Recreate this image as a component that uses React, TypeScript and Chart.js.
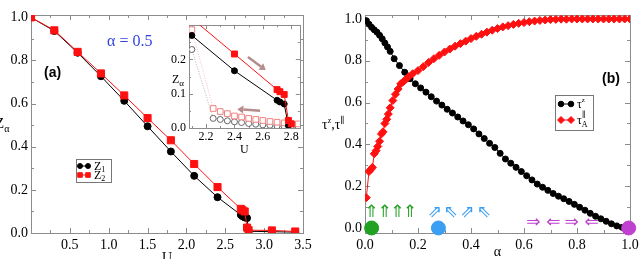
import React, { useEffect, useRef } from "react";
import { Chart, registerables } from "chart.js";

Chart.register(...registerables);

const SERIF = "'Liberation Serif', 'DejaVu Serif', serif";
const SANS = "'Liberation Sans', 'DejaVu Sans', sans-serif";
const SYMBOL = "'DejaVu Sans', sans-serif";

// ================= Panel (a): Z_alpha vs U (alpha = 0.5) =================
const uValues = [0, 0.3, 0.6, 0.9, 1.2, 1.5, 1.8, 2.1, 2.4, 2.7, 2.72, 2.75, 2.78, 2.8, 3.1, 3.4];
const z1Values = [1.0, 0.937, 0.836, 0.727, 0.613, 0.495, 0.378, 0.265, 0.166, 0.084, 0.078, 0.072, 0.069, 0.008, 0.006, 0.004];
const z2Values = [1.0, 0.94, 0.84, 0.74, 0.638, 0.533, 0.43, 0.32, 0.213, 0.112, 0.106, 0.1, 0.025, 0.013, 0.012, 0.007];
const aXTicks = [0.5, 1.0, 1.5, 2.0, 2.5, 3.0, 3.5];
const aYTicks = [0, 0.2, 0.4, 0.6, 0.8, 1.0];

// inset of panel (a)
const insetZ1U = [2.1, 2.4, 2.7, 2.72, 2.75, 2.78];
const insetZ1 = [0.27, 0.167, 0.081, 0.076, 0.07, 0.007];
const insetZ2U = [2.1, 2.4, 2.7, 2.72, 2.75, 2.78, 2.8];
const insetZ2 = [0.32, 0.216, 0.112, 0.106, 0.098, 0.022, 0.012];
const hystU = [2.1, 2.25, 2.3, 2.35, 2.4, 2.45, 2.5, 2.55, 2.6, 2.65, 2.7, 2.75, 2.8, 2.85];
const hystZ1 = [0.229, 0.028, 0.025, 0.021, 0.018, 0.016, 0.013, 0.011, 0.009, 0.008, 0.006, 0.005, 0.004, 0.003];
const hystZ2 = [0.287, 0.057, 0.048, 0.042, 0.035, 0.032, 0.028, 0.025, 0.022, 0.019, 0.017, 0.015, 0.013, 0.012];
const insetXTicks = [2.2, 2.4, 2.6, 2.8];
const insetYTicks = [0, 0.1, 0.2];
const insetArrowFrom = [[2.495, 0.207], [2.58, 0.05]];
const insetArrowTo = [[2.62, 0.169], [2.42, 0.055]];

// ================= Panel (b): tau vs alpha =================
const alphaZ = [0.005, 0.015, 0.025, 0.035, 0.045, 0.055, 0.065, 0.075, 0.085, 0.095,
  0.11, 0.13, 0.15, 0.17, 0.19, 0.21, 0.23, 0.25, 0.27, 0.29,
  0.31, 0.33, 0.35, 0.37, 0.39, 0.41, 0.43, 0.45, 0.47, 0.49,
  0.51, 0.53, 0.55, 0.57, 0.59, 0.61, 0.63, 0.65, 0.67, 0.69,
  0.71, 0.73, 0.75, 0.77, 0.79, 0.81, 0.83, 0.85, 0.87, 0.89,
  0.91, 0.93, 0.95, 0.97, 0.99];
const tauZ = [0.992, 0.975, 0.96, 0.948, 0.937, 0.922, 0.905, 0.885, 0.866, 0.845,
  0.81, 0.777, 0.745, 0.714, 0.69, 0.67, 0.65, 0.628, 0.607, 0.588,
  0.568, 0.55, 0.531, 0.512, 0.494, 0.474, 0.45, 0.428, 0.405, 0.385,
  0.357, 0.33, 0.31, 0.29, 0.27, 0.25, 0.23, 0.21, 0.195, 0.18,
  0.165, 0.152, 0.14, 0.127, 0.113, 0.099, 0.085, 0.07, 0.056, 0.044,
  0.032, 0.02, 0.01, 0.003, 0.0];
const alphaA = [0.005, 0.015, 0.022, 0.028, 0.035, 0.042, 0.048, 0.055, 0.062, 0.068,
  0.075, 0.082, 0.088, 0.095, 0.105, 0.115, 0.125, 0.135, 0.145, 0.155, 0.165,
  0.18, 0.2, 0.22, 0.24, 0.26, 0.28, 0.3, 0.32, 0.34, 0.36,
  0.38, 0.4, 0.42, 0.44, 0.46, 0.48, 0.5, 0.52, 0.54, 0.56,
  0.58, 0.6, 0.62, 0.64, 0.66, 0.68, 0.7, 0.72, 0.74, 0.76,
  0.78, 0.8, 0.82, 0.84, 0.86, 0.88, 0.9, 0.92, 0.94, 0.96, 0.98, 1.0];
const tauA = [0.145, 0.27, 0.28, 0.29, 0.355, 0.37, 0.39, 0.415, 0.45, 0.46,
  0.5, 0.52, 0.545, 0.575, 0.61, 0.64, 0.665, 0.69, 0.7, 0.712, 0.724,
  0.738, 0.753, 0.772, 0.792, 0.81, 0.826, 0.842, 0.856, 0.87, 0.882,
  0.894, 0.906, 0.917, 0.927, 0.937, 0.946, 0.954, 0.962, 0.968, 0.974,
  0.979, 0.983, 0.987, 0.99, 0.993, 0.995, 0.997, 0.998, 0.999, 0.999,
  1.0, 1.0, 1.0, 1.0, 1.0, 1.0, 1.0, 1.0, 1.0, 1.0, 1.0, 1.0];
const bTicks = [0, 0.2, 0.4, 0.6, 0.8, 1.0];
const fixedPointAlpha = [0.025, 0.277, 0.995];
const fixedPointTau = [0, 0, 0];
const fixedPointColors = ["#22a022", "#3a9ff2", "#c040d0"];
const greenArrowAlpha = [0.025, 0.075, 0.123, 0.17];
const blueArrowAlpha = [0.264, 0.323, 0.386, 0.449];
const blueArrowGlyphs = ["⇗", "⇖", "⇗", "⇖"];
const purpleArrowAlpha = [0.635, 0.711, 0.78, 0.855];
const purpleArrowGlyphs = ["⇒", "⇐", "⇒", "⇐"];

// ================= helpers =================
const pts = (xs: number[], ys: number[]) => xs.map((x, i) => ({ x, y: ys[i] }));
const range = (a: number, b: number, s: number) => {
  const out: number[] = [];
  for (let v = a; v <= b + 1e-9; v += s) out.push(Math.round(v * 1000) / 1000);
  return out;
};

function linAxis(o: any) {
  return {
    type: "linear",
    min: o.min,
    max: o.max,
    afterBuildTicks: (s: any) => {
      s.ticks = o.ticks.map((v: number) => ({ value: v }));
    },
    afterFit: o.fit,
    ticks: {
      autoSkip: false,
      maxRotation: 0,
      padding: o.pad,
      color: "#000",
      font: { family: SERIF, size: o.size },
      callback: (v: any) => Number(v).toFixed(o.digits),
    },
    grid: { display: false, drawTicks: false },
    border: { display: false },
    title: { display: false },
  };
}

function drawFrame(chart: any, f: any) {
  const { ctx, chartArea: a } = chart;
  const xs = chart.scales.x;
  const ys = chart.scales.y;
  ctx.save();
  ctx.strokeStyle = f.color;
  ctx.lineWidth = 1;
  ctx.strokeRect(Math.round(a.left) + 0.5, Math.round(a.top) + 0.5, Math.round(a.right - a.left), Math.round(a.bottom - a.top));
  ctx.beginPath();
  const xt = (vals: number[], len: number) => {
    vals.forEach((v) => {
      const p = Math.round(xs.getPixelForValue(v)) + 0.5;
      ctx.moveTo(p, a.bottom);
      ctx.lineTo(p, a.bottom - len);
      ctx.moveTo(p, a.top);
      ctx.lineTo(p, a.top + len);
    });
  };
  const yt = (vals: number[], len: number) => {
    vals.forEach((v) => {
      const p = Math.round(ys.getPixelForValue(v)) + 0.5;
      ctx.moveTo(a.left, p);
      ctx.lineTo(a.left + len, p);
      ctx.moveTo(a.right, p);
      ctx.lineTo(a.right - len, p);
    });
  };
  xt(f.xMajor, f.major);
  xt(f.xMinor, f.minor);
  yt(f.yMajor, f.major);
  yt(f.yMinor, f.minor);
  ctx.stroke();
  ctx.restore();
}

function runs(ctx: any, x: number, y: number, items: any[], color: string) {
  ctx.save();
  ctx.fillStyle = color;
  ctx.textAlign = "left";
  ctx.textBaseline = "alphabetic";
  let cx = x;
  items.forEach((r) => {
    ctx.font = `${r.bold ? "bold " : ""}${r.size}px ${r.family || SERIF}`;
    ctx.fillText(r.t, cx + (r.dx || 0), y + (r.dy || 0));
    if (!r.stay) cx += ctx.measureText(r.t).width + (r.dx || 0);
  });
  ctx.restore();
}

function axisTitle(chart: any, text: string, size: number, baseline: number) {
  const { ctx, chartArea: a } = chart;
  ctx.save();
  ctx.fillStyle = "#000";
  ctx.font = `${size}px ${SERIF}`;
  ctx.textAlign = "center";
  ctx.textBaseline = "alphabetic";
  ctx.fillText(text, (a.left + a.right) / 2, baseline);
  ctx.restore();
}

function marker(ctx: any, style: string, x: number, y: number, r: number, fill: string, stroke: string) {
  ctx.beginPath();
  if (style === "circle") ctx.arc(x, y, r, 0, Math.PI * 2);
  else if (style === "rect") ctx.rect(x - r, y - r, 2 * r, 2 * r);
  else {
    ctx.moveTo(x, y - r);
    ctx.lineTo(x + r, y);
    ctx.lineTo(x, y + r);
    ctx.lineTo(x - r, y);
    ctx.closePath();
  }
  ctx.fillStyle = fill;
  ctx.fill();
  ctx.strokeStyle = stroke;
  ctx.lineWidth = 1;
  ctx.stroke();
}

function legendRow(ctx: any, x: number, y: number, style: string, color: string, r: number, gap: number) {
  ctx.save();
  ctx.strokeStyle = color;
  ctx.lineWidth = 1;
  ctx.beginPath();
  ctx.moveTo(x, y);
  ctx.lineTo(x + gap, y);
  ctx.stroke();
  marker(ctx, style, x, y, r, color, color);
  marker(ctx, style, x + gap, y, r, color, color);
  ctx.restore();
}

const FRAME = "#8c8c8c";
const RED = "#ff1010";

// ================= configs =================
function configA(): any {
  return {
    type: "scatter",
    data: {
      datasets: [
        {
          data: pts(uValues, z2Values), showLine: true, borderColor: RED, borderWidth: 1,
          pointStyle: "rect", pointRadius: 5, pointBackgroundColor: RED, pointBorderColor: RED,
        },
        {
          data: pts(uValues, z1Values), showLine: true, borderColor: "#000", borderWidth: 1,
          pointStyle: "circle", pointRadius: 3.5, pointBackgroundColor: "#000", pointBorderColor: "#000",
        },
      ],
    },
    options: {
      responsive: false, animation: false, events: [],
      layout: { padding: { top: 15, right: 19, left: 0, bottom: 0 } },
      plugins: { legend: { display: false }, tooltip: { enabled: false } },
      scales: {
        x: linAxis({ min: 0, max: 3.5, ticks: aXTicks, digits: 1, size: 14, pad: 4, fit: (s: any) => { s.height = 26; } }),
        y: linAxis({ min: 0, max: 1.011, ticks: aYTicks, digits: 1, size: 14, pad: 3, fit: (s: any) => { s.width = 31; } }),
      },
    },
    plugins: [
      {
        id: "decorA",
        beforeDatasetsDraw(chart: any) {
          drawFrame(chart, {
            color: FRAME, major: 5, minor: 3,
            xMajor: range(0.5, 3.0, 0.5), xMinor: range(0.25, 3.25, 0.5),
            yMajor: range(0.2, 0.8, 0.2), yMinor: range(0.1, 0.9, 0.2),
          });
        },
        afterDatasetsDraw(chart: any) {
          const ctx = chart.ctx;
          axisTitle(chart, "U", 14, 262);
          runs(ctx, 107, 46, [{ t: "α = 0.5", size: 16 }], "#3344dd");
          runs(ctx, 44, 77, [{ t: "(a)", size: 14, bold: true, family: SANS }], "#000");
          runs(ctx, -5, 128, [{ t: "Z", size: 15 }, { t: "α", size: 10, dy: 4 }], "#000");
          // legend
          ctx.save();
          ctx.strokeStyle = "#777";
          ctx.lineWidth = 1;
          ctx.strokeRect(76.5, 159.5, 35, 23);
          ctx.restore();
          legendRow(ctx, 80, 166, "circle", "#000", 2.5, 8);
          legendRow(ctx, 80, 175, "rect", RED, 2.3, 8);
          runs(ctx, 94, 170, [{ t: "Z", size: 12 }, { t: "1", size: 8, dy: 2 }], "#000");
          runs(ctx, 94, 179, [{ t: "Z", size: 12 }, { t: "2", size: 8, dy: 2 }], "#000");
        },
      },
    ],
  };
}

function configInset(): any {
  return {
    type: "scatter",
    data: {
      datasets: [
        {
          data: pts(insetZ2U, insetZ2), showLine: true, borderColor: RED, borderWidth: 1,
          pointStyle: "rect", pointRadius: 4.2, pointBackgroundColor: RED, pointBorderColor: RED,
        },
        {
          data: pts(insetZ1U, insetZ1), showLine: true, borderColor: "#000", borderWidth: 1,
          pointStyle: "circle", pointRadius: 3, pointBackgroundColor: "#000", pointBorderColor: "#000",
        },
        {
          data: pts(hystU, hystZ2), showLine: true, borderColor: "#f4a0a0", borderWidth: 0.7, borderDash: [1, 1.5],
          pointStyle: "rect", pointRadius: 4, pointBackgroundColor: "#fff", pointBorderColor: "#f08080", pointBorderWidth: 1,
        },
        {
          data: pts(hystU, hystZ1), showLine: true, borderColor: "#9a9a9a", borderWidth: 0.7, borderDash: [1, 1.5],
          pointStyle: "circle", pointRadius: 3, pointBackgroundColor: "#fff", pointBorderColor: "#666", pointBorderWidth: 1,
        },
      ],
    },
    options: {
      responsive: false, animation: false, events: [],
      layout: { padding: { top: 10, right: 5, left: 0, bottom: 0 } },
      plugins: { legend: { display: false }, tooltip: { enabled: false } },
      scales: {
        x: linAxis({ min: 2.08, max: 2.86, ticks: insetXTicks, digits: 1, size: 12, pad: 2, fit: (s: any) => { s.height = 32; } }),
        y: linAxis({ min: 0, max: 0.3, ticks: insetYTicks, digits: 1, size: 12, pad: 3, fit: (s: any) => { s.width = 39; } }),
      },
    },
    plugins: [
      {
        id: "decorInset",
        beforeDraw(chart: any) {
          const { ctx, chartArea: a } = chart;
          ctx.save();
          ctx.fillStyle = "#fff";
          ctx.fillRect(a.left, a.top, a.right - a.left, a.bottom - a.top);
          ctx.restore();
        },
        beforeDatasetsDraw(chart: any) {
          drawFrame(chart, {
            color: FRAME, major: 4, minor: 2,
            xMajor: insetXTicks, xMinor: range(2.1, 2.7, 0.2),
            yMajor: [0.1, 0.2], yMinor: [0.05, 0.15, 0.25],
          });
          const { ctx } = chart;
          const xs = chart.scales.x;
          const ys = chart.scales.y;
          ctx.save();
          ctx.strokeStyle = "#b48c8c";
          ctx.fillStyle = "#b48c8c";
          ctx.lineWidth = 2.5;
          insetArrowFrom.forEach((f, i) => {
            const t = insetArrowTo[i];
            const x0 = xs.getPixelForValue(f[0]);
            const y0 = ys.getPixelForValue(f[1]);
            const x1 = xs.getPixelForValue(t[0]);
            const y1 = ys.getPixelForValue(t[1]);
            const ang = Math.atan2(y1 - y0, x1 - x0);
            const hx = x1 - 6 * Math.cos(ang);
            const hy = y1 - 6 * Math.sin(ang);
            ctx.beginPath();
            ctx.moveTo(x0, y0);
            ctx.lineTo(hx, hy);
            ctx.stroke();
            ctx.beginPath();
            ctx.moveTo(x1, y1);
            ctx.lineTo(hx + 4 * Math.sin(ang), hy - 4 * Math.cos(ang));
            ctx.lineTo(hx - 4 * Math.sin(ang), hy + 4 * Math.cos(ang));
            ctx.closePath();
            ctx.fill();
          });
          ctx.restore();
        },
        afterDraw(chart: any) {
          axisTitle(chart, "U", 12, 138);
          runs(chart.ctx, 22, 68, [{ t: "Z", size: 12 }, { t: "α", size: 9, dy: 3 }], "#000");
        },
      },
    ],
  };
}

function configB(): any {
  return {
    type: "scatter",
    data: {
      datasets: [
        {
          data: pts(fixedPointAlpha, fixedPointTau), showLine: false, clip: false,
          pointStyle: "circle", pointRadius: 7, pointBackgroundColor: fixedPointColors, pointBorderColor: fixedPointColors,
        },
        {
          data: pts(alphaA, tauA), showLine: true, borderColor: RED, borderWidth: 1,
          pointStyle: "rectRot", pointRadius: 4, pointBackgroundColor: RED, pointBorderColor: RED,
        },
        {
          data: pts(alphaZ, tauZ), showLine: true, borderColor: "#000", borderWidth: 1,
          pointStyle: "circle", pointRadius: 3, pointBackgroundColor: "#000", pointBorderColor: "#000",
        },
      ],
    },
    options: {
      responsive: false, animation: false, events: [],
      layout: { padding: { top: 15, right: 13, left: 0, bottom: 0 } },
      plugins: { legend: { display: false }, tooltip: { enabled: false } },
      scales: {
        x: linAxis({ min: 0, max: 1, ticks: bTicks, digits: 1, size: 14, pad: 4, fit: (s: any) => { s.height = 26; } }),
        y: linAxis({ min: -0.024, max: 1.019, ticks: bTicks, digits: 1, size: 14, pad: 3, fit: (s: any) => { s.width = 43; } }),
      },
    },
    plugins: [
      {
        id: "decorB",
        beforeDatasetsDraw(chart: any) {
          drawFrame(chart, {
            color: FRAME, major: 5, minor: 3,
            xMajor: [0.2, 0.4, 0.6, 0.8], xMinor: range(0.1, 0.9, 0.2),
            yMajor: bTicks, yMinor: range(0.1, 0.9, 0.2),
          });
          const { ctx } = chart;
          const xs = chart.scales.x;
          const ys = chart.scales.y;
          ctx.save();
          ctx.textAlign = "center";
          ctx.textBaseline = "middle";
          ctx.font = `17px ${SYMBOL}`;
          ctx.fillStyle = fixedPointColors[0];
          greenArrowAlpha.forEach((a) => ctx.fillText("⇑", xs.getPixelForValue(a), ys.getPixelForValue(0.072)));
          ctx.fillStyle = fixedPointColors[1];
          blueArrowAlpha.forEach((a, i) => ctx.fillText(blueArrowGlyphs[i], xs.getPixelForValue(a), ys.getPixelForValue(0.072)));
          ctx.fillStyle = fixedPointColors[2];
          purpleArrowAlpha.forEach((a, i) => ctx.fillText(purpleArrowGlyphs[i], xs.getPixelForValue(a), ys.getPixelForValue(0.025)));
          ctx.restore();
        },
        afterDatasetsDraw(chart: any) {
          const ctx = chart.ctx;
          axisTitle(chart, "α", 14, 256);
          runs(ctx, 280, 83, [{ t: "(b)", size: 14, bold: true, family: SANS }], "#000");
          runs(ctx, 0, 129, [
            { t: "τ", size: 14 }, { t: "z", size: 8, dy: -6 }, { t: ",", size: 14 },
            { t: "τ", size: 14 }, { t: "∥", size: 9, dy: -6 },
          ], "#000");
          ctx.save();
          ctx.strokeStyle = "#777";
          ctx.lineWidth = 1;
          ctx.strokeRect(233.5, 95.5, 38, 35);
          ctx.restore();
          legendRow(ctx, 239, 104, "circle", "#000", 2.8, 10);
          legendRow(ctx, 239, 120, "rectRot", RED, 3.5, 10);
          runs(ctx, 255, 108, [{ t: "τ", size: 12 }, { t: "z", size: 7, dy: -6 }], "#000");
          runs(ctx, 255, 124, [{ t: "τ", size: 12 }, { t: "∥", size: 8, dy: -7, stay: true }, { t: "A", size: 8, dy: 3 }], "#000");
        },
      },
    ],
  };
}

export default function App() {
  const aRef = useRef<HTMLCanvasElement>(null);
  const insetRef = useRef<HTMLCanvasElement>(null);
  const bRef = useRef<HTMLCanvasElement>(null);

  useEffect(() => {
    const charts: Chart[] = [];
    if (aRef.current) charts.push(new Chart(aRef.current, configA()));
    if (insetRef.current) charts.push(new Chart(insetRef.current, configInset()));
    if (bRef.current) charts.push(new Chart(bRef.current, configB()));
    return () => charts.forEach((c) => c.destroy());
  }, []);

  return (
    <div style={{ position: "absolute", left: 0, top: 0, width: 643, height: 259, background: "#fff", overflow: "hidden" }}>
      <canvas ref={aRef} width={322} height={259} style={{ position: "absolute", left: 0, top: 0, width: 322, height: 259 }} />
      <canvas ref={insetRef} width={155} height={145} style={{ position: "absolute", left: 150, top: 15, width: 155, height: 145 }} />
      <canvas ref={bRef} width={321} height={259} style={{ position: "absolute", left: 322, top: 0, width: 321, height: 259 }} />
    </div>
  );
}
